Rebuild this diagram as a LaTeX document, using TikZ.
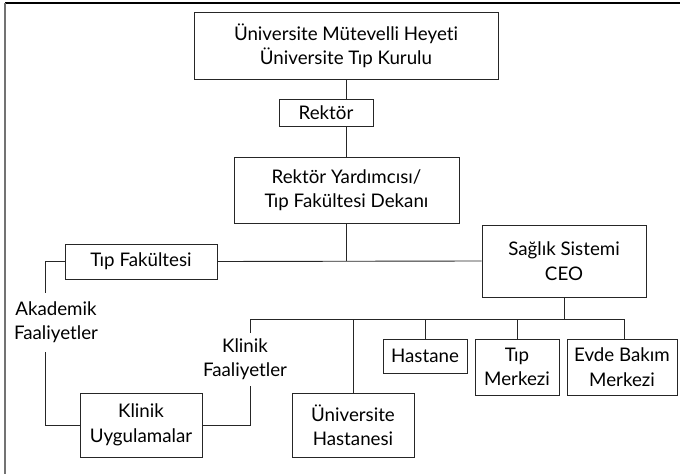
\documentclass[tikz,border=0pt]{standalone}
\usepackage{fontspec}
\setmainfont[Ligatures=NoCommon]{Lato}
\usepackage{tikz}
\usetikzlibrary{positioning}

\begin{document}
\begin{tikzpicture}[
    x=1bp, y=-1bp,
    font=\fontsize{18.8}{24.5}\selectfont,
    unit/.style={rectangle, draw=black!85, line width=0.9bp, inner sep=0pt, align=center},
    lbl/.style={inner sep=0pt, align=center},
    link/.style={draw=black!85, line width=0.9bp},
]
\useasboundingbox (0,0) rectangle (680,474);

% Frame
\draw[line width=1.4bp, black] (5,3) -- (680,3);
\draw[line width=1.4bp, black!55] (5,3) -- (5,474);

% Board
\node[unit, minimum width=304bp, minimum height=67bp] (board) at (346,45.5) {Üniversite Mütevelli Heyeti\\Üniversite Tıp Kurulu};

% Rector
\node[unit, minimum width=94bp, minimum height=27bp] (rektor) at (326,112.5) {Rektör};
\draw[link] (board.south) -- (board.south |- rektor.north);

% Vice rector / dean
\node[unit, minimum width=225bp, minimum height=66bp] (dekan) at (346.5,190) {Rektör Yardımcısı/\\Tıp Fakültesi Dekanı};
\draw[link] (board.south |- rektor.south) -- (board.south |- dekan.north);

% Faculty and health system
\node[unit, minimum width=152bp, minimum height=35bp] (fakulte) at (141,261.5) {Tıp Fakültesi};
\node[unit, minimum width=164bp, minimum height=72bp] (ceo) at (564,261) {Sağlık Sistemi\\CEO};
\draw[link] (fakulte.east) -- (ceo.west);
\draw[link] (board.south |- dekan.south) -- (board.south |- fakulte.east);

% Academic side
\node[lbl] (akademik) at (56,322) {Akademik\\Faaliyetler};
\node[unit, minimum width=122bp, minimum height=64bp] (uygulama) at (141,425) {Klinik\\Uygulamalar};
\draw[link] (fakulte.west) -| (45,293);
\draw[link] (45,352) |- (uygulama.west);

% Clinical side
\node[lbl] (klinikfa) at (245,359) {Klinik\\Faaliyetler};
\coordinate (bus) at (564,319);
\draw[link] (ceo.south) -- (bus);
\draw[link] (250,333) |- (624,319);
\draw[link] (uygulama.east) -| (250,386);

% Units under CEO
\node[unit, minimum width=122bp, minimum height=64bp] (unihast) at (353,425) {Üniversite\\Hastanesi};
\node[unit, minimum width=84bp, minimum height=34bp] (hastane) at (425,356) {Hastane};
\node[unit, minimum width=84bp, minimum height=56bp] (tipmerk) at (517,367) {Tıp\\Merkezi};
\node[unit, minimum width=110bp, minimum height=56bp] (evde) at (622,367) {Evde Bakım\\Merkezi};
\draw[link] (unihast.north) -- (unihast.north |- bus);
\draw[link] (hastane.north) -- (hastane.north |- bus);
\draw[link] (tipmerk.north) -- (tipmerk.north |- bus);
\draw[link] (624,339) -- (624,319);
\end{tikzpicture}
\end{document}
